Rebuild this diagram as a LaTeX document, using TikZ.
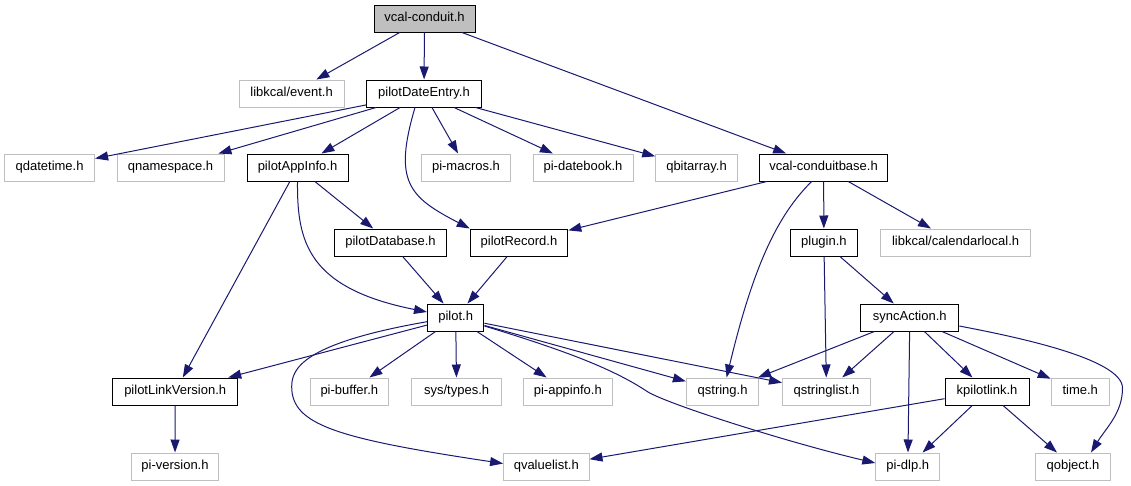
\documentclass[tikz,border=0pt]{standalone}
\usepackage{fontspec}
\setmainfont{Liberation Sans}
\usetikzlibrary{arrows.meta}
\definecolor{edgeblue}{HTML}{191970}
\definecolor{grayline}{HTML}{BFBFBF}
\begin{document}
\begin{tikzpicture}[x=1pt,y=-1pt,
 box/.style={draw=black,line width=1pt,fill=white,minimum height=27pt,inner sep=0pt,
   text height=9.5pt,text depth=2.8pt,font=\fontsize{13}{15}\selectfont},
 ext/.style={box,draw=grayline},
 root/.style={box,fill=grayline},
 dep/.style={draw=edgeblue,line width=1pt,-{Triangle[length=13pt,width=9pt]}},
]
\useasboundingbox (0,0) rectangle (1131,485);
% row 0
\node[root,minimum width=101pt] (vc) at (424.5,18.5) {vcal-conduit.h};
% row 1
\node[ext,minimum width=105pt] (ev) at (291.6,93.5) {libkcal/event.h};
\node[box,minimum width=114.6pt] (pde) at (424,93.5) {pilotDateEntry.h};
% row 2
\node[ext,minimum width=90pt] (qdt) at (49.6,167.5) {qdatetime.h};
\node[ext,minimum width=107pt] (qns) at (170.5,167.5) {qnamespace.h};
\node[box,minimum width=101pt] (pai) at (297.5,167.5) {pilotAppInfo.h};
\node[ext,minimum width=89.7pt] (pim) at (466,167.5) {pi-macros.h};
\node[ext,minimum width=100pt] (pidb) at (583,167.5) {pi-datebook.h};
\node[ext,minimum width=81.5pt] (qba) at (696.5,167.5) {qbitarray.h};
\node[box,minimum width=128pt] (vcb) at (823.6,167.5) {vcal-conduitbase.h};
% row 3
\node[box,minimum width=112.5pt] (pdb) at (390.5,242.5) {pilotDatabase.h};
\node[box,minimum width=97.6pt] (prec) at (519,242.5) {pilotRecord.h};
\node[box,minimum width=66.7pt] (plug) at (823.9,242.5) {plugin.h};
\node[ext,minimum width=149.7pt] (cal) at (955.6,242.5) {libkcal/calendarlocal.h};
% row 4
\node[box,minimum width=56.5pt] (pilot) at (455.7,317.5) {pilot.h};
\node[box,minimum width=98pt] (sync) at (909.8,317.5) {syncAction.h};
% row 5
\node[box,minimum width=124.6pt] (plv) at (175.2,391.5) {pilotLinkVersion.h};
\node[ext,minimum width=77.8pt] (pib) at (349.3,391.5) {pi-buffer.h};
\node[ext,minimum width=90.4pt] (st) at (456.6,391.5) {sys/types.h};
\node[ext,minimum width=88.4pt] (pia) at (567.8,391.5) {pi-appinfo.h};
\node[ext,minimum width=72.4pt] (qs) at (722.6,391.5) {qstring.h};
\node[ext,minimum width=88pt] (qsl) at (826.5,391.5) {qstringlist.h};
\node[box,minimum width=84pt] (kpl) at (987,391.5) {kpilotlink.h};
\node[ext,minimum width=58pt] (time) at (1080.2,391.5) {time.h};
% row 6
\node[ext,minimum width=87.2pt] (piv) at (175,466.5) {pi-version.h};
\node[ext,minimum width=85.4pt] (qvl) at (546.3,466.5) {qvaluelist.h};
\node[ext,minimum width=64pt] (dlp) at (907.8,466.5) {pi-dlp.h};
\node[ext,minimum width=75.4pt] (qobj) at (1073,466.5) {qobject.h};

% straight edges
\foreach \a/\b in {vc/ev,vc/pde,vc/vcb,pde/qdt,pde/qns,pde/pai,pde/pim,pde/pidb,pde/qba,
  pai/pdb,pai/plv,vcb/prec,vcb/plug,vcb/cal,pdb/pilot,prec/pilot,plug/qsl,plug/sync,
  pilot/plv,pilot/pib,pilot/st,pilot/pia,pilot/qs,pilot/qsl,plv/piv,
  sync/qs,sync/qsl,sync/dlp,sync/kpl,sync/time,kpl/qvl,kpl/dlp,kpl/qobj}
  \draw[dep] (\a) -- (\b);

% curved edges
\draw[dep] ([xshift=-9pt]pde.south) .. controls (393,182) and (409,197) .. (prec.north west);
\draw[dep] (pai.south) .. controls (297,241) and (307,288) .. ([yshift=5.5pt]pilot.west);
\draw[dep] ([xshift=-12pt]vcb.south) .. controls (776.7,216) and (752.9,268) .. ([xshift=4pt]qs.north);
\draw[dep] ([yshift=-4.2pt]pilot.west) .. controls (300.8,343.7) and (291.7,369.5) .. (291.7,386.7)
  .. controls (291.7,424.8) and (336.6,438.5) .. ([yshift=3pt]qvl.west);
\draw[dep] ([yshift=-8.5pt]pilot.east) .. controls (570,352) and (615,370) .. (648,392)
  .. controls (670,405) and (790,443) .. ([yshift=3.5pt]dlp.west);
\draw[dep] ([yshift=-8.5pt]sync.east) .. controls (1010.5,335.8) and (1122.5,358.2) .. (1122.5,388)
  .. controls (1122.5,413) and (1106,428) .. ([xshift=18pt]qobj.north);
\end{tikzpicture}
\end{document}
